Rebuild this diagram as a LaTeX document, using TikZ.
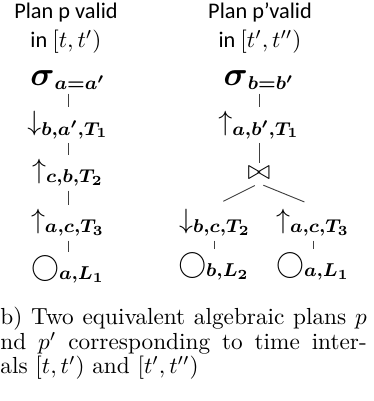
\documentclass[tikz,border=0pt]{standalone}
\usepackage{amsmath, amssymb}
\usepackage{fontspec}
\newfontfamily\planfont{Carlito}
\usepackage{tikz}

\newcommand{\bsym}[1]{\boldsymbol{#1}}
\newcommand{\bigsig}{\mbox{\Large$\bsym{\sigma}$}}

\begin{document}
\begin{tikzpicture}[x=0.43pt,y=-0.43pt,
		op/.style={inner sep=1.5pt, font=\fontsize{11.5}{13}\selectfont},
		title/.style={align=center, inner sep=0pt, font=\planfont\fontsize{9.6}{12.6}\selectfont},
		captxt/.style={anchor=north west, align=left, inner sep=0pt, font=\fontsize{10}{10.55}\selectfont},
		link/.style={black!75, line width=0.4pt}]
			\useasboundingbox (0,0) rectangle (373,401);
			
			\node[title] (t1) at (66,28) {Plan p valid\\in $[t,t')$};
			\node[title] (t2) at (260,28) {Plan p’valid\\in $[t',t'')$};
			
			\node[op] (s1) at (68,80) {$\bigsig_{\bsym{a=a'}}$};
			\node[op] (d1) at (68,125) {$\downarrow_{\bsym{b,a',T_1}}$};
			\node[op] (u1) at (68,173) {$\uparrow_{\bsym{c,b,T_2}}$};
			\node[op] (u2) at (68,223) {$\uparrow_{\bsym{a,c,T_3}}$};
			\node[op] (l1) at (68,270) {$\bigcirc_{\bsym{a,L_1}}$};
			
			\node[op] (s2) at (259,80) {$\bigsig_{\bsym{b=b'}}$};
			\node[op] (u3) at (259,125) {$\uparrow_{\bsym{a,b',T_1}}$};
			\node[op] (j) at (259,173) {\large$\bowtie$};
			\node[op] (d2) at (215,223) {$\downarrow_{\bsym{b,c,T_2}}$};
			\node[op] (u4) at (313,223) {$\uparrow_{\bsym{a,c,T_3}}$};
			\node[op] (l2) at (214,267) {$\bigcirc_{\bsym{b,L_2}}$};
			\node[op] (l3) at (313,267) {$\bigcirc_{\bsym{a,L_1}}$};
			
			\draw[link] (s1) -- (d1);
			\draw[link] (d1) -- (u1);
			\draw[link] (u1) -- (u2);
			\draw[link] (u2) -- (l1);
			
			\draw[link] (s2) -- (u3);
			\draw[link] (u3) -- (j);
			\draw[link, shorten <=2pt, shorten >=4pt] (j.south) -- (d2.north);
			\draw[link, shorten <=2pt, shorten >=4pt] (j.south) -- (u4.north);
			\draw[link] (d2.south -| l2) -- (l2);
			\draw[link] (u4.south -| l3) -- (l3);
			
			% caption, cut at the left edge
			\node[captxt] (cap) at (0,307) {\makebox[157.5pt][s]{b) Two equivalent algebraic plans $p$}\\
				\makebox[157.5pt][s]{nd $p'$ corresponding to time inter-}\\
				als $[t,t')$ and $[t',t'')$};
			
		\end{tikzpicture}
\end{document}
